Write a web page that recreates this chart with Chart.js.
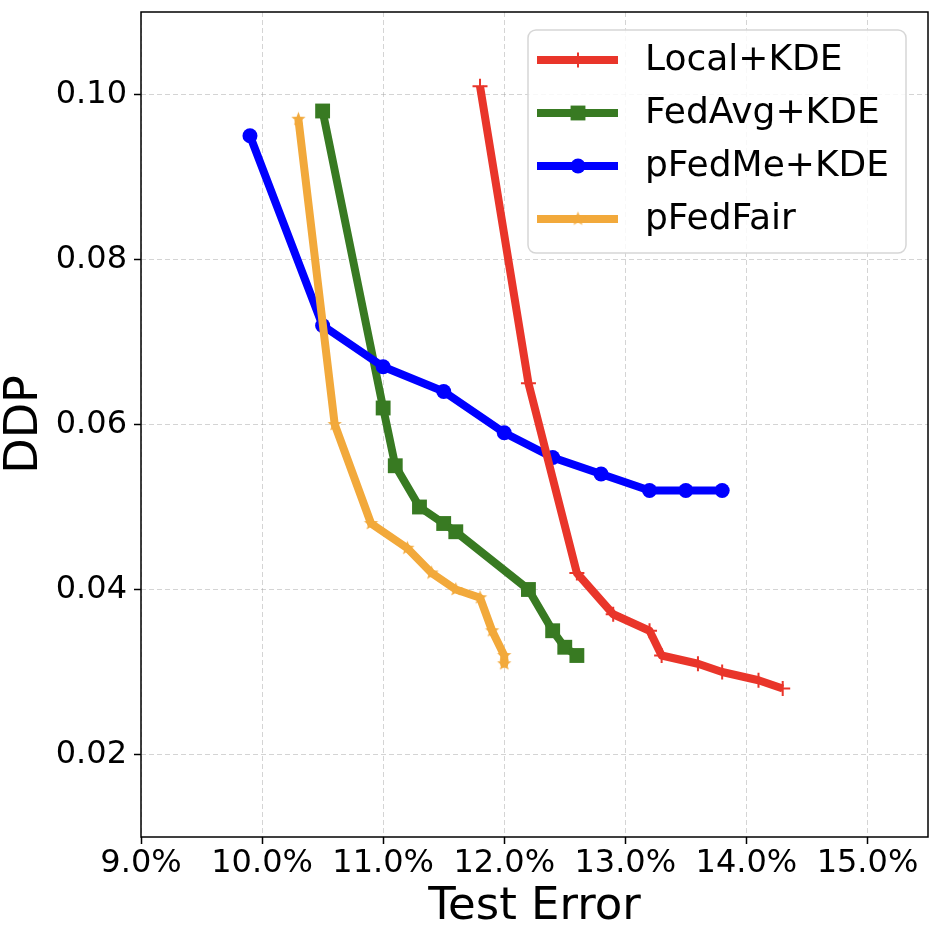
<!DOCTYPE html>
<html>
<head>
<meta charset="utf-8">
<script src="https://cdn.jsdelivr.net/npm/chart.js@4.4.1/dist/chart.umd.min.js"></script>
<style>
  html, body { margin: 0; padding: 0; background: #fff; }
  #chart { display: block; }
</style>
</head>
<body>
<canvas id="chart" width="932" height="930"></canvas>
<script>
// series: test error (%) vs DDP
const localX = [11.8, 12.2, 12.6, 12.9, 13.2, 13.3, 13.6, 13.8, 14.1, 14.3];
const localY = [0.101, 0.065, 0.042, 0.037, 0.035, 0.032, 0.031, 0.030, 0.029, 0.028];

const fedavgX = [10.5, 11.0, 11.1, 11.3, 11.5, 11.6, 12.2, 12.4, 12.5, 12.6];
const fedavgY = [0.098, 0.062, 0.055, 0.050, 0.048, 0.047, 0.040, 0.035, 0.033, 0.032];

const pfedmeX = [9.9, 10.5, 11.0, 11.5, 12.0, 12.4, 12.8, 13.2, 13.5, 13.8];
const pfedmeY = [0.095, 0.072, 0.067, 0.064, 0.059, 0.056, 0.054, 0.052, 0.052, 0.052];

const pfedfairX = [10.3, 10.6, 10.9, 11.2, 11.4, 11.6, 11.8, 11.9, 12.0, 12.0];
const pfedfairY = [0.097, 0.060, 0.048, 0.045, 0.042, 0.040, 0.039, 0.035, 0.032, 0.031];

const seriesNames = ['Local+KDE', 'FedAvg+KDE', 'pFedMe+KDE', 'pFedFair'];
const xTicks = [9, 10, 11, 12, 13, 14, 15];
const yTicks = [0.02, 0.04, 0.06, 0.08, 0.10];

const FONT = "'DejaVu Sans', 'Liberation Sans', sans-serif";
const RED = '#e9352a';
const GREEN = '#387a22';
const BLUE = '#0000ff';
const ORANGE = '#f2a93b';

function toPoints(xs, ys) {
  return xs.map((x, i) => ({ x: x, y: ys[i] }));
}

// filled five-point star, like matplotlib's '*'
function makeStar(color, r) {
  const c = document.createElement('canvas');
  const s = Math.ceil(r * 2 + 2);
  c.width = s;
  c.height = s;
  const g = c.getContext('2d');
  g.beginPath();
  for (let i = 0; i < 10; i++) {
    const rad = i % 2 === 0 ? r : r * 0.42;
    const a = -Math.PI / 2 + i * Math.PI / 5;
    const px = s / 2 + rad * Math.cos(a);
    const py = s / 2 + rad * Math.sin(a);
    if (i === 0) g.moveTo(px, py); else g.lineTo(px, py);
  }
  g.closePath();
  g.fillStyle = color;
  g.fill();
  return c;
}
const starImg = makeStar(ORANGE, 7.5);

// frame + legend drawn on top, matplotlib style
const framePlugin = {
  id: 'frame',
  afterDraw(chart) {
    const { ctx, chartArea: a } = chart;
    ctx.save();
    ctx.strokeStyle = '#000';
    ctx.lineWidth = 1.5;
    ctx.strokeRect(a.left, a.top, a.right - a.left, a.bottom - a.top);

    // legend box
    const bx = 528, by = 30, bw = 378, bh = 223, r = 8;
    ctx.beginPath();
    ctx.moveTo(bx + r, by);
    ctx.arcTo(bx + bw, by, bx + bw, by + bh, r);
    ctx.arcTo(bx + bw, by + bh, bx, by + bh, r);
    ctx.arcTo(bx, by + bh, bx, by, r);
    ctx.arcTo(bx, by, bx + bw, by, r);
    ctx.closePath();
    ctx.fillStyle = 'rgba(255,255,255,0.85)';
    ctx.fill();
    ctx.strokeStyle = '#d6d6d6';
    ctx.lineWidth = 1.5;
    ctx.stroke();

    const rowY = [60, 113, 166, 219];
    chart.data.datasets.forEach((ds, i) => {
      const y = rowY[i];
      ctx.strokeStyle = ds.borderColor;
      ctx.lineWidth = ds.borderWidth;
      ctx.beginPath();
      ctx.moveTo(537, y);
      ctx.lineTo(618, y);
      ctx.stroke();
      ctx.fillStyle = ds.pointBackgroundColor;
      ctx.strokeStyle = ds.pointBorderColor;
      ctx.lineWidth = ds.pointBorderWidth;
      Chart.helpers.drawPoint(ctx, {
        pointStyle: ds.pointStyle,
        radius: ds.pointRadius,
        borderWidth: ds.pointBorderWidth,
        rotation: 0
      }, 578, y);
      ctx.fillStyle = '#000';
      ctx.font = '36px ' + FONT;
      ctx.textAlign = 'left';
      ctx.textBaseline = 'middle';
      ctx.fillText(ds.label, 645, y + 1);
    });
    ctx.restore();
  }
};

new Chart(document.getElementById('chart'), {
  type: 'scatter',
  data: {
    datasets: [
      {
        label: seriesNames[0],
        data: toPoints(localX, localY),
        showLine: true,
        borderColor: RED,
        backgroundColor: RED,
        borderWidth: 8,
        pointStyle: 'cross',
        pointRadius: 7.5,
        pointBorderWidth: 2,
        pointBorderColor: RED,
        pointBackgroundColor: RED,
        order: 2
      },
      {
        label: seriesNames[1],
        data: toPoints(fedavgX, fedavgY),
        showLine: true,
        borderColor: GREEN,
        backgroundColor: GREEN,
        borderWidth: 8,
        pointStyle: 'rect',
        pointRadius: 10.5,
        pointBorderWidth: 0,
        pointBorderColor: GREEN,
        pointBackgroundColor: GREEN,
        order: 4
      },
      {
        label: seriesNames[2],
        data: toPoints(pfedmeX, pfedmeY),
        showLine: true,
        borderColor: BLUE,
        backgroundColor: BLUE,
        borderWidth: 8,
        pointStyle: 'circle',
        pointRadius: 7.5,
        pointBorderWidth: 0,
        pointBorderColor: BLUE,
        pointBackgroundColor: BLUE,
        order: 3
      },
      {
        label: seriesNames[3],
        data: toPoints(pfedfairX, pfedfairY),
        showLine: true,
        borderColor: ORANGE,
        backgroundColor: ORANGE,
        borderWidth: 8,
        pointStyle: starImg,
        pointRadius: 7.5,
        pointBorderWidth: 0,
        pointBorderColor: ORANGE,
        pointBackgroundColor: ORANGE,
        order: 1
      }
    ]
  },
  options: {
    responsive: false,
    animation: false,
    devicePixelRatio: 1,
    layout: { autoPadding: false, padding: { top: 12, right: 4, left: 0, bottom: 0 } },
    elements: { line: { borderJoinStyle: 'round', tension: 0 } },
    plugins: {
      legend: { display: false },
      tooltip: { enabled: false }
    },
    scales: {
      x: {
        type: 'linear',
        min: 9,
        max: 15.5,
        afterBuildTicks: scale => { scale.ticks = xTicks.map(v => ({ value: v })); },
        afterFit: scale => {
          scale.height = 93;
          scale.paddingLeft = 0;
          scale.paddingRight = 0;
        },
        border: { display: false, dash: [5, 3] },
        grid: {
          color: 'rgba(160,160,160,0.45)',
          lineWidth: 1,
          tickColor: '#000',
          tickLength: 7,
          tickWidth: 1.5,
          tickBorderDash: []
        },
        ticks: {
          color: '#000',
          font: { family: FONT, size: 32 },
          padding: 0,
          maxRotation: 0,
          autoSkip: false,
          callback: v => v.toFixed(1) + '%'
        },
        title: {
          display: true,
          text: 'Test Error',
          color: '#000',
          font: { family: FONT, size: 45, lineHeight: 1 },
          padding: { top: 0, bottom: 0 }
        }
      },
      y: {
        type: 'linear',
        min: 0.01,
        max: 0.11,
        afterBuildTicks: scale => { scale.ticks = yTicks.map(v => ({ value: v })); },
        afterFit: scale => {
          scale.width = 141;
          scale.paddingTop = 0;
          scale.paddingBottom = 0;
        },
        border: { display: false, dash: [5, 3] },
        grid: {
          color: 'rgba(160,160,160,0.45)',
          lineWidth: 1,
          tickColor: '#000',
          tickLength: 7,
          tickWidth: 1.5,
          tickBorderDash: []
        },
        ticks: {
          color: '#000',
          font: { family: FONT, size: 32 },
          padding: 7,
          autoSkip: false,
          callback: v => v.toFixed(2)
        },
        title: {
          display: true,
          text: 'DDP',
          color: '#000',
          font: { family: FONT, size: 46, lineHeight: 1 },
          padding: { top: 2, bottom: 0 }
        }
      }
    }
  },
  plugins: [framePlugin]
});
</script>
</body>
</html>
